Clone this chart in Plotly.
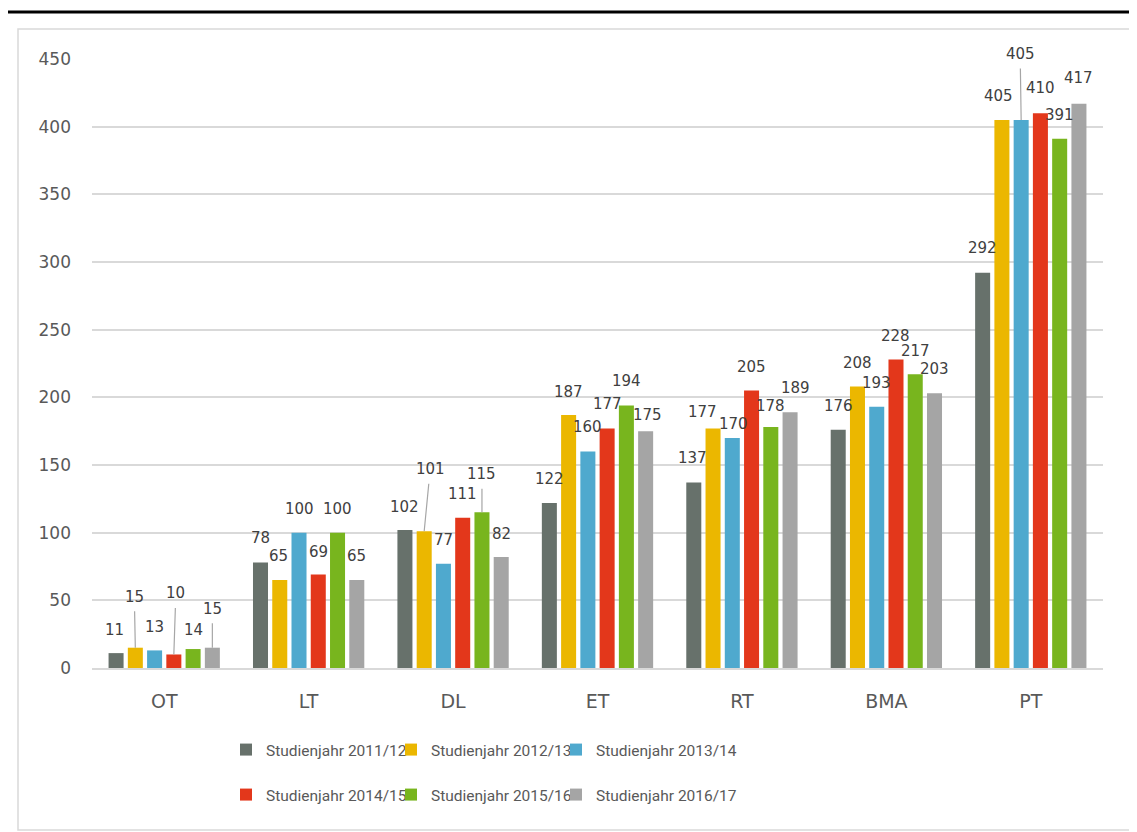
import plotly.graph_objects as go

# ---------------- data ----------------
categories = ["OT", "LT", "DL", "ET", "RT", "BMA", "PT"]
series_names = ["Studienjahr 2011/12", "Studienjahr 2012/13", "Studienjahr 2013/14",
                "Studienjahr 2014/15", "Studienjahr 2015/16", "Studienjahr 2016/17"]
v_2011_12 = [11, 78, 102, 122, 137, 176, 292]
v_2012_13 = [15, 65, 101, 187, 177, 208, 405]
v_2013_14 = [13, 100, 77, 160, 170, 193, 405]
v_2014_15 = [10, 69, 111, 177, 205, 228, 410]
v_2015_16 = [14, 100, 115, 194, 178, 217, 391]
v_2016_17 = [15, 65, 82, 175, 189, 203, 417]
y_ticks = [0, 50, 100, 150, 200, 250, 300, 350, 400, 450]

series_values = [v_2011_12, v_2012_13, v_2013_14, v_2014_15, v_2015_16, v_2016_17]

# ---------------- styling ----------------
colors = ["#67716b", "#ebb700", "#4fa9ce", "#e3371b", "#78b51e", "#a5a5a5"]
W, H = 1137, 832
OFF = 8  # page body margin offset
ML, MR, MT, MB = 92 - OFF, 34 + OFF, 59 - OFF, 164 + OFF
BARGAP, BARGROUPGAP = 0.2, 0.22
TEXT = "#595959"
LABEL = "#404040"
GRID = "#d9d9d9"

# label placement (pixel offsets relative to bar top): default dy=24
default_dy = 24
label_adjust = {
    # (series, category): (dx, dy, leader)
    (0, 0): (-2, 23, False), (1, 0): (-1, 51, True), (2, 0): (0, 23, False),
    (3, 0): (2, 61, True), (4, 0): (0, 19, False), (5, 0): (0, 39, True),
    (3, 1): (0, 23, False), (1, 1): (-1, 24, False),
    (0, 2): (0, 23, False), (1, 2): (6, 62, True), (4, 2): (0, 38, True), (5, 2): (0, 23, False),
    (1, 3): (0, 23, False), (5, 3): (2, 16, False),
    (0, 4): (-1, 25, False), (1, 4): (-11, 16, False), (2, 4): (1, 14, False),
    (4, 4): (0, 21, False), (5, 4): (5, 24, False),
    (3, 5): (0, 23, False), (4, 5): (0, 23, False),
    (0, 6): (0, 25, False), (1, 6): (-3, 24, False), (2, 6): (-1, 66, True),
    (3, 6): (0, 25, False), (5, 6): (0, 26, False),
}

plot_w = W - ML - MR
plot_h = H - MT - MB
pitch = plot_w / len(categories) * (1 - BARGAP) / len(series_values)


def px2x(px):
    """reference-image x pixel -> paper x"""
    return (px - OFF - ML) / plot_w


def py2y(py):
    """reference-image y pixel -> paper y"""
    return (H - MB - (py - OFF)) / plot_h


legend_ids = ["legend", "legend2", "legend3", "legend4", "legend5", "legend6"]
# legend item square centres in the reference (x, y)
legend_pos = [(246, 750), (411, 750), (576, 750), (246, 795), (411, 795), (576, 795)]

fig = go.Figure()
for i, (name, vals) in enumerate(zip(series_names, series_values)):
    fig.add_trace(go.Bar(
        x=categories, y=vals, name=name,
        marker=dict(color=colors[i], line=dict(width=0)),
        legend=legend_ids[i],
        hoverinfo="skip",
    ))

annotations = []
for i, vals in enumerate(series_values):
    for j, v in enumerate(vals):
        dx, dy, leader = label_adjust.get((i, j), (0, default_dy, False))
        base_shift = (i - (len(series_values) - 1) / 2) * pitch
        if leader:
            annotations.append(dict(
                x=categories[j], y=v, xref="x", yref="y", text=str(v),
                xshift=base_shift, showarrow=True, ax=dx, ay=-dy,
                arrowhead=0, arrowwidth=1.2, arrowcolor="#a6a6a6",
                standoff=0, startstandoff=4,
                font=dict(family="DejaVu Sans", size=15, color=LABEL),
            ))
        else:
            annotations.append(dict(
                x=categories[j], y=v, xref="x", yref="y", text=str(v),
                xshift=base_shift + dx, yshift=dy, showarrow=False,
                xanchor="center", yanchor="middle",
                font=dict(family="DejaVu Sans", size=15, color=LABEL),
            ))

legend_layouts = {}
for lid, (lx, ly) in zip(legend_ids, legend_pos):
    legend_layouts[lid] = dict(
        orientation="h", xanchor="left", yanchor="middle",
        x=px2x(lx - 20), y=py2y(ly),
        font=dict(family="Roboto", size=15.5, color=TEXT),
        bgcolor="rgba(0,0,0,0)", itemclick=False, itemdoubleclick=False,
        borderwidth=0,
    )

fig.update_layout(
    width=W, height=H,
    margin=dict(l=ML, r=MR, t=MT, b=MB, autoexpand=False),
    paper_bgcolor="white", plot_bgcolor="white",
    barmode="group", bargap=BARGAP, bargroupgap=BARGROUPGAP,
    showlegend=True,
    **legend_layouts,
    xaxis=dict(
        type="category", showgrid=False, showline=True, linecolor=GRID, linewidth=1.5,
        ticks="", tickfont=dict(family="DejaVu Sans", size=19, color=TEXT),
        ticklabelstandoff=15, fixedrange=True,
    ),
    yaxis=dict(
        range=[0, 450], tickvals=y_ticks, showgrid=True, gridcolor=GRID, gridwidth=1.5,
        zeroline=False, showline=False, ticks="",
        tickfont=dict(family="DejaVu Sans", size=17, color=TEXT),
        ticklabelstandoff=20, fixedrange=True,
    ),
    annotations=annotations,
    shapes=[
        dict(type="rect", xref="paper", yref="paper",
             x0=px2x(18), x1=px2x(1130), y0=py2y(830), y1=py2y(29),
             line=dict(color=GRID, width=1.5), fillcolor="rgba(0,0,0,0)", layer="below"),
        dict(type="line", xref="paper", yref="paper",
             x0=px2x(5), x1=px2x(1145), y0=py2y(12), y1=py2y(12),
             line=dict(color="black", width=3)),
    ],
    hovermode=False,
)

fig.write_html("out.html", config={"displayModeBar": False})
